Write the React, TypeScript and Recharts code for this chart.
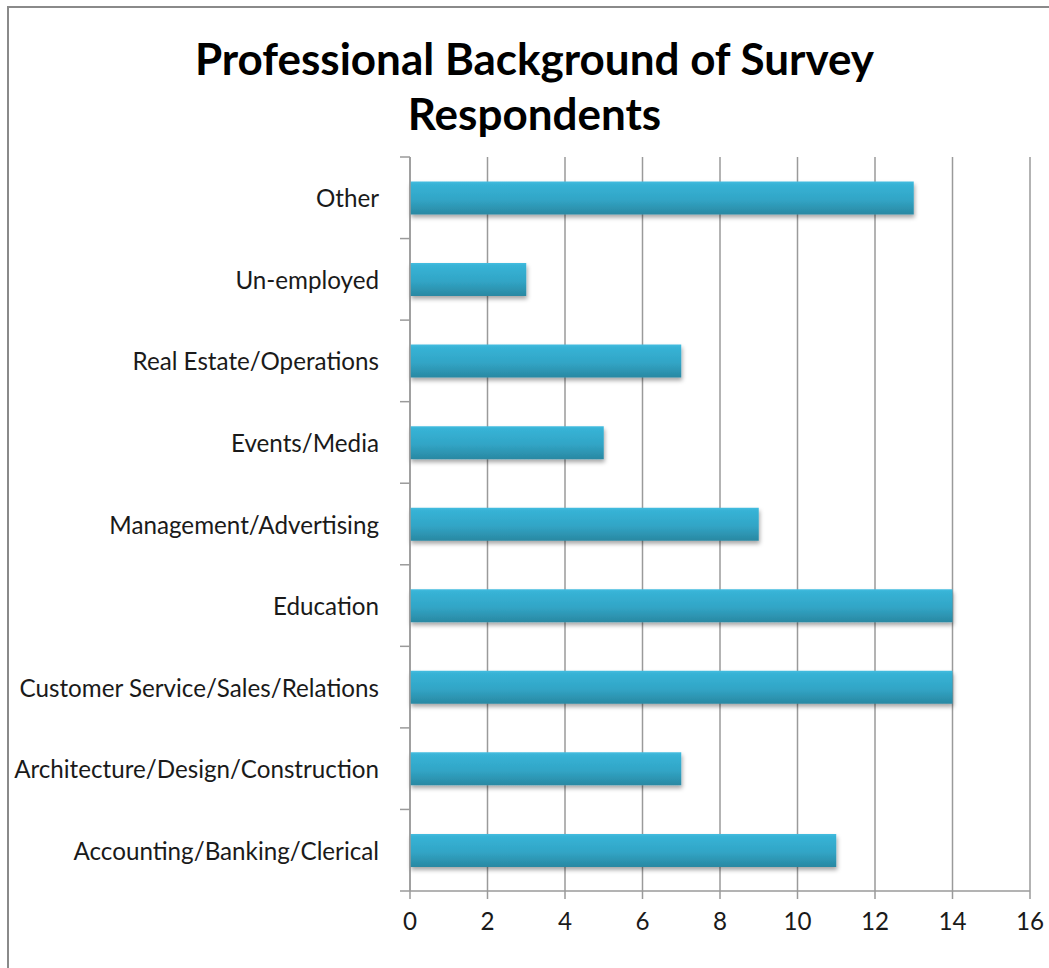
import React from 'react';
import { BarChart, Bar, XAxis, YAxis, CartesianGrid } from 'recharts';

const categories = [
  'Other',
  'Un-employed',
  'Real Estate/Operations',
  'Events/Media',
  'Management/Advertising',
  'Education',
  'Customer Service/Sales/Relations',
  'Architecture/Design/Construction',
  'Accounting/Banking/Clerical',
];
const respondents = [13, 3, 7, 5, 9, 14, 14, 7, 11];
const xTicks = [0, 2, 4, 6, 8, 10, 12, 14, 16];
const titleLines = ['Professional Background of Survey', 'Respondents'];

const data = categories.map((c, i) => ({ category: c, value: respondents[i] }));

const FONT = "Lato, 'Open Sans', sans-serif";
const AXIS_GRAY = '#9a9a9a';
const LABEL_SIZE = 24.2;
const Y_TICK_SIZE = 10;
const Y_TICK_MARGIN = 21;

const CategoryTick = (props: any) => {
  const { x, y, payload, index } = props;
  const half = payload && typeof payload.offset === 'number' ? payload.offset : 0;
  const lx1 = x + Y_TICK_MARGIN;
  const lx2 = lx1 + Y_TICK_SIZE;
  return (
    <g>
      <line x1={lx1} x2={lx2} y1={y - half} y2={y - half} stroke={AXIS_GRAY} strokeWidth={1.5} />
      {index === categories.length - 1 && (
        <line x1={lx1} x2={lx2} y1={y + half} y2={y + half} stroke={AXIS_GRAY} strokeWidth={1.5} />
      )}
      <text x={x} y={y} textAnchor="end" dominantBaseline="central" fill="#1a1a1a" fontSize={LABEL_SIZE} fontFamily={FONT}>
        {payload.value}
      </text>
    </g>
  );
};

export default function App() {
  return (
    <div style={{ position: 'fixed', left: 0, top: 0, width: 1049, height: 968, overflow: 'hidden', background: '#fff' }}>
      <div
        style={{
          position: 'absolute',
          left: 7,
          top: 6,
          width: 1200,
          height: 1200,
          border: '2.5px solid #8a8a8a',
          boxSizing: 'border-box',
        }}
      />
      <div
        style={{
          position: 'absolute',
          left: 0,
          top: 31,
          width: 1069,
          textAlign: 'center',
          fontFamily: FONT,
          fontWeight: 700,
          fontSize: 44,
          lineHeight: '55px',
          color: '#000',
        }}
      >
        {titleLines.map((t) => (
          <div key={t}>{t}</div>
        ))}
      </div>
      <div style={{ position: 'absolute', left: 0, top: 0 }}>
        <BarChart
          width={1049}
          height={968}
          data={data}
          layout="vertical"
          margin={{ top: 157, right: 19, bottom: 37, left: 10 }}
          barCategoryGap="30%"
        >
          <defs>
            <linearGradient id="barGrad" x1="0" y1="0" x2="0" y2="1">
              <stop offset="0%" stopColor="#45bde0" />
              <stop offset="8%" stopColor="#37b3d6" />
              <stop offset="55%" stopColor="#31a5c6" />
              <stop offset="100%" stopColor="#2a88a2" />
            </linearGradient>
            <filter id="barShadow" x="-5%" y="-30%" width="110%" height="180%">
              <feDropShadow dx="1" dy="3" stdDeviation="2" floodColor="#000" floodOpacity="0.35" />
            </filter>
          </defs>
          <CartesianGrid horizontal={false} vertical stroke={AXIS_GRAY} strokeWidth={1.5} />
          <XAxis
            type="number"
            domain={[0, 16]}
            ticks={xTicks}
            interval={0}
            height={40}
            tickSize={8}
            tickMargin={14}
            axisLine={{ stroke: AXIS_GRAY, strokeWidth: 1.5 }}
            tickLine={{ stroke: AXIS_GRAY, strokeWidth: 1.5 }}
            tick={{ fill: '#1a1a1a', fontSize: LABEL_SIZE, fontFamily: FONT }}
          />
          <YAxis
            type="category"
            dataKey="category"
            width={400}
            interval={0}
            tickSize={Y_TICK_SIZE}
            tickMargin={Y_TICK_MARGIN}
            tickLine={false}
            axisLine={{ stroke: AXIS_GRAY, strokeWidth: 1.5 }}
            tick={<CategoryTick />}
          />
          <Bar dataKey="value" fill="url(#barGrad)" filter="url(#barShadow)" isAnimationActive={false} />
        </BarChart>
      </div>
    </div>
  );
}
